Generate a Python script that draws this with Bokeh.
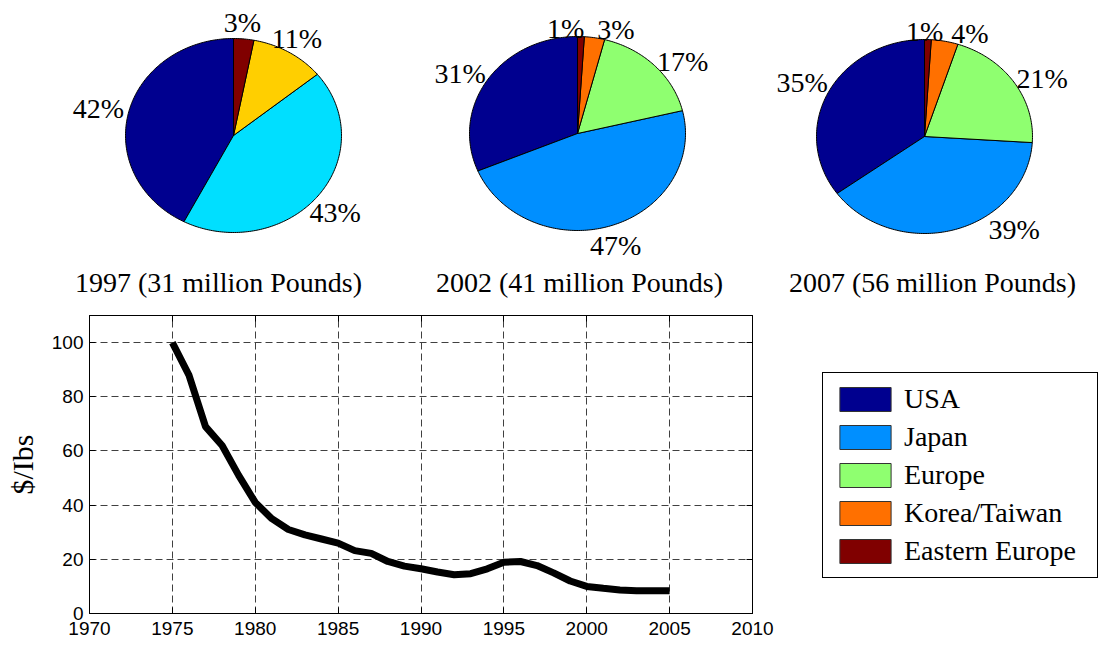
import math
import numpy as np
from bokeh.plotting import figure
from bokeh.models import (Range1d, LinearAxis, Legend, LegendItem, ColumnDataSource,
                          FixedTicker)
from bokeh.layouts import column, row
from bokeh.embed import file_html
from bokeh.resources import INLINE
from bokeh.core.properties import value

# ---------------- data ----------------
REGIONS = ["USA", "Japan", "Europe", "Korea/Taiwan", "Eastern Europe"]
REGION_COLORS = ["#00008F", "#008FFF", "#8FFF70", "#FF7000", "#800000"]

PIE_TITLES = ["1997 (31 million Pounds)", "2002 (41 million Pounds)", "2007 (56 million Pounds)"]
SHARES_1997 = [42, 43, 11, 3]
SHARES_2002 = [31, 47, 17, 3, 1]
SHARES_2007 = [35, 39, 21, 4, 1]
COLORS_1997 = ["#00008F", "#00DFFF", "#FFCF00", "#800000"]
COLORS_2002 = REGION_COLORS
COLORS_2007 = REGION_COLORS

YEARS = list(range(1975, 2006))
PRICE = [100, 88, 69, 62, 51, 41, 35, 31, 29, 27.5,
         26, 23.2, 22.2, 19.2, 17.5, 16.5, 15.3, 14.3, 14.7, 16.5,
         18.9, 19.2, 17.7, 15.0, 12.0, 10.0, 9.3, 8.7, 8.4, 8.4, 8.4]
X_TICKS = [1970, 1975, 1980, 1985, 1990, 1995, 2000, 2005, 2010]
Y_TICKS = [0, 20, 40, 60, 80, 100]
Y_LABEL = "$/Ibs"

# ---------------- layout constants ----------------
SERIF = "Liberation Serif"
SANS = "Liberation Sans"
PIE_CX = [233, 577, 924]
PIE_CY = [135, 133, 136]
RX, RY = 108, 97
LABEL_KX, LABEL_KY = 1.25, 1.2
LABEL_NUDGE = [
    [(-4, 0), (-3, 4), (-6, 3), (-4, 3)],
    [(-5, 4), (-4, 1), (9, 10), (17, 11), (-16, 11)],
    [(-2, -1), (52, -19), (6, 7), (20, 11), (-4, 11)],
]
TITLE_X = [218, 579, 932]
TITLE_Y = 282

W_TOTAL = 1100
H_TOP = 298
H_BOTTOM = 346
W_LINE = 800
FRAME_LEFT, FRAME_RIGHT, FRAME_TOP, FRAME_BOTTOM = 89, 752, 315, 613
LEGEND_LEFT, LEGEND_BOTTOM = 822, 578


def pie_sources(shares, colors, cx, cy, nudges):
    total = float(sum(shares))
    xs, ys, lx, ly, labels = [], [], [], [], []
    start = 90.0
    for s, (dx, dy) in zip(shares, nudges):
        span = 360.0 * s / total
        n = max(2, int(math.ceil(span)))
        ang = np.radians(np.linspace(start, start + span, n + 1))
        xs.append([cx] + list(cx + RX * np.cos(ang)) + [cx])
        ys.append([cy] + list(cy - RY * np.sin(ang)) + [cy])
        mid = math.radians(start + span / 2.0)
        lx.append(cx + LABEL_KX * RX * math.cos(mid) + dx)
        ly.append(cy - LABEL_KY * RY * math.sin(mid) + dy)
        labels.append("%d%%" % s)
        start += span
    wedges = ColumnDataSource(dict(xs=xs, ys=ys, color=colors))
    texts = ColumnDataSource(dict(x=lx, y=ly, text=labels))
    return wedges, texts


# ---------------- pies ----------------
top = figure(width=W_TOTAL, height=H_TOP, x_range=Range1d(0, W_TOTAL),
             y_range=Range1d(H_TOP, 0), output_backend="svg", toolbar_location=None,
             x_axis_type=None, y_axis_type=None, min_border=0)
top.outline_line_color = None
top.xgrid.visible = False
top.ygrid.visible = False

all_shares = [SHARES_1997, SHARES_2002, SHARES_2007]
all_colors = [COLORS_1997, COLORS_2002, COLORS_2007]
for i in range(3):
    wsrc, tsrc = pie_sources(all_shares[i], all_colors[i], PIE_CX[i], PIE_CY[i], LABEL_NUDGE[i])
    top.patches(xs="xs", ys="ys", fill_color="color", line_color="black", line_width=1, source=wsrc)
    top.text(x="x", y="y", text="text", source=tsrc, text_font=value(SERIF),
             text_font_size="28px", text_align="center", text_baseline="middle", text_color="black")

title_src = ColumnDataSource(dict(x=TITLE_X, y=[TITLE_Y] * 3, text=PIE_TITLES))
top.text(x="x", y="y", text="text", source=title_src, text_font=value(SERIF),
         text_font_size="28px", text_align="center", text_baseline="middle", text_color="black")

# ---------------- line chart ----------------
line = figure(width=W_LINE, height=H_BOTTOM, x_range=Range1d(1970, 2010), y_range=Range1d(0, 110),
              output_backend="svg", toolbar_location=None,
              min_border_left=FRAME_LEFT, min_border_right=W_LINE - FRAME_RIGHT,
              min_border_top=FRAME_TOP - H_TOP, min_border_bottom=H_TOP + H_BOTTOM - FRAME_BOTTOM)
line.outline_line_color = "black"
line.line(YEARS, PRICE, line_width=7, line_color="black")

for ax, ticks in ((line.xaxis[0], X_TICKS), (line.yaxis[0], Y_TICKS)):
    ax.ticker = FixedTicker(ticks=ticks)
    ax.major_tick_in = 6
    ax.major_tick_out = 0
    ax.minor_tick_in = 0
    ax.minor_tick_out = 0
    ax.axis_line_color = "black"
    ax.major_tick_line_color = "black"
    ax.major_label_text_font = SANS
    ax.major_label_text_font_size = "19px"
    ax.major_label_text_color = "black"
line.xaxis[0].major_label_standoff = 8
line.yaxis[0].major_label_standoff = 6
line.yaxis[0].axis_label = Y_LABEL
line.yaxis[0].axis_label_text_font = SERIF
line.yaxis[0].axis_label_text_font_style = "normal"
line.yaxis[0].axis_label_text_font_size = "30px"
line.yaxis[0].axis_label_text_color = "black"
line.yaxis[0].axis_label_standoff = 10

for loc, ticks in (("above", X_TICKS), ("right", Y_TICKS)):
    extra = LinearAxis(ticker=FixedTicker(ticks=ticks), major_tick_in=6, major_tick_out=0,
                       minor_tick_in=0, minor_tick_out=0, axis_line_color="black",
                       major_label_standoff=0, major_label_text_font_size="0px",
                       major_label_overrides={t: "" for t in ticks})
    line.add_layout(extra, loc)

for g, ticks in ((line.xgrid[0], X_TICKS), (line.ygrid[0], Y_TICKS)):
    g.ticker = FixedTicker(ticks=ticks)
    g.grid_line_color = "#404040"
    g.grid_line_dash = "7 4"
    g.grid_line_width = 1

# ---------------- legend ----------------
leg = figure(width=W_TOTAL - W_LINE, height=H_BOTTOM, x_range=Range1d(0, 1), y_range=Range1d(0, 1),
             output_backend="svg", toolbar_location=None, x_axis_type=None, y_axis_type=None,
             min_border=0)
leg.outline_line_color = None
leg.xgrid.visible = False
leg.ygrid.visible = False
items = []
for name, color in zip(REGIONS, REGION_COLORS):
    r = leg.quad(left=[np.nan], right=[np.nan], top=[np.nan], bottom=[np.nan],
                 fill_color=color, line_color="#333333", line_width=1)
    items.append(LegendItem(label=name, renderers=[r]))
# the legend frame is aligned with the line chart frame inside the row
legend = Legend(items=items, location=(LEGEND_LEFT - W_LINE, FRAME_BOTTOM - LEGEND_BOTTOM),
                glyph_width=64, glyph_height=30,
                label_height=30, label_width=183, label_standoff=7, spacing=6, padding=10,
                margin=0, border_line_color="black", border_line_width=1, border_line_alpha=1,
                background_fill_color="white", background_fill_alpha=1,
                label_text_font=SERIF, label_text_font_size="28px", label_text_color="black")
leg.add_layout(legend)

layout = column(top, row(line, leg))

with open("out.html", "w") as f:
    f.write(file_html(layout, INLINE))
